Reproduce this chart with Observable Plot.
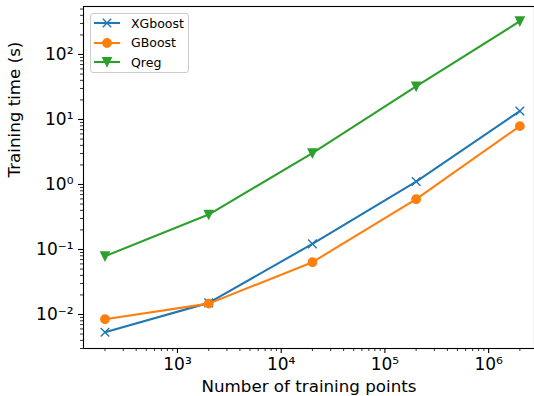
<!DOCTYPE html>
<html>
<head>
<meta charset="utf-8">
<script src="https://cdn.jsdelivr.net/npm/d3@7"></script>
<script src="https://cdn.jsdelivr.net/npm/@observablehq/plot@0.6"></script>
<style>
  body { margin: 0; background: white; }
  #wrap { position: relative; width: 534px; height: 396px; overflow: hidden; font-family: "DejaVu Sans", sans-serif; }
  #legend { position: absolute; left: 90px; top: 13px; width: 99px; height: 60px;
    background: rgba(255,255,255,0.8); border: 1px solid #cccccc; border-radius: 3px; box-sizing: border-box; }
  .row { position: absolute; left: 0; height: 20px; display: flex; align-items: center; }
  .row span { font-size: 12.5px; color: black; margin-left: 10px; }
</style>
</head>
<body>
<div id="wrap"><div id="chart"></div><div id="legend"></div></div>
<script>
// Data
const sizes = [200, 2000, 20000, 200000, 2000000];
const xgboost = [0.00534, 0.0151, 0.122, 1.11, 13.5];
const gboost = [0.00847, 0.0147, 0.0638, 0.594, 7.9];
const qreg = [0.0789, 0.345, 3.03, 32.2, 325];
const seriesNames = ["XGboost", "GBoost", "Qreg"];
const seriesColors = ["#1f77b4", "#ff7f0e", "#2ca02c"];

const xMajorTicks = [1e3, 1e4, 1e5, 1e6];
const yMajorTicks = [1e-2, 1e-1, 1e0, 1e1, 1e2];
const xLabel = "Number of training points";
const yLabel = "Training time (s)";

const xDomain = [Math.pow(10, 2.094), Math.pow(10, 6.5)];
const yDomain = [Math.pow(10, -2.523), Math.pow(10, 2.738)];

function minorTicks(domain) {
  const out = [];
  for (let e = -4; e <= 7; e++) for (let m = 2; m <= 9; m++) {
    const v = m * Math.pow(10, e);
    if (v >= domain[0] && v <= domain[1]) out.push(v);
  }
  return out;
}
const supMap = {"-": "\u207B", "0": "\u2070", "1": "\u00B9", "2": "\u00B2", "3": "\u00B3", "4": "\u2074",
  "5": "\u2075", "6": "\u2076", "7": "\u2077", "8": "\u2078", "9": "\u2079"};
const fmt = v => "10" + String(Math.round(Math.log10(v))).split("").map(c => supMap[c]).join("");

const table = [];
[xgboost, gboost, qreg].forEach((vals, i) => {
  sizes.forEach((s, j) => table.push({series: seriesNames[i], n: s, t: vals[j]}));
});
const bySeries = name => table.filter(d => d.series === name);

const triDown = {
  draw(context, size) {
    const r = Math.sqrt(size / Math.PI);
    context.moveTo(-r, -r);
    context.lineTo(r, -r);
    context.lineTo(0, r);
    context.closePath();
  }
};

const chart = Plot.plot({
  width: 534,
  height: 396,
  marginLeft: 83,
  marginTop: 6,
  marginBottom: 48,
  marginRight: 0,
  style: {fontFamily: "DejaVu Sans", fontSize: "17px", color: "black", background: "white", overflow: "visible"},
  x: {type: "log", domain: xDomain, range: [83, 540]},
  y: {type: "log", domain: yDomain, range: [348, 6]},
  color: {domain: seriesNames, range: seriesColors},
  marks: [
    Plot.axisX({ticks: minorTicks(xDomain), tickSize: 3, strokeWidth: 0.8, tickFormat: () => "", label: null}),
    Plot.axisY({ticks: minorTicks(yDomain), tickSize: 3, strokeWidth: 0.8, tickFormat: () => "", label: null}),
    Plot.axisX({ticks: xMajorTicks, tickSize: 5, tickPadding: 4, strokeWidth: 1.1, tickFormat: fmt, label: null, fontSize: 17}),
    Plot.axisY({ticks: yMajorTicks, tickSize: 5, tickPadding: 5, strokeWidth: 1.1, tickFormat: fmt, label: null, fontSize: 17}),
    Plot.frame({stroke: "black", strokeWidth: 1.1}),
    Plot.line(table, {x: "n", y: "t", z: "series", stroke: "series", strokeWidth: 2.1}),
    Plot.dot(bySeries("XGboost"), {x: "n", y: "t", symbol: "times", r: 4, stroke: seriesColors[0], strokeWidth: 1.4}),
    Plot.dot(bySeries("GBoost"), {x: "n", y: "t", symbol: "circle", r: 4.2, fill: seriesColors[1], stroke: seriesColors[1], strokeWidth: 1.4}),
    Plot.dot(bySeries("Qreg"), {x: "n", y: "t", symbol: triDown, r: 4.2, fill: seriesColors[2], stroke: seriesColors[2], strokeWidth: 1.4}),
    Plot.text([xLabel], {frameAnchor: "bottom", text: d => d, lineAnchor: "bottom", dy: 43.5, fontSize: 16.7, fill: "black"}),
    Plot.text([yLabel], {frameAnchor: "left", text: d => d, rotate: -90, lineAnchor: "top", dx: -75, fontSize: 16.7, fill: "black"})
  ]
});
document.getElementById("chart").appendChild(chart);

// Legend
const legend = document.getElementById("legend");
const markerSvg = [
  c => `<path d="M8.8,5.8 L17.2,14.2 M8.8,14.2 L17.2,5.8" stroke="${c}" stroke-width="1.4"/>`,
  c => `<circle cx="13" cy="10" r="4.2" fill="${c}" stroke="${c}" stroke-width="1.4"/>`,
  c => `<path d="M8.8,5.8 L17.2,5.8 L13,14.2 Z" fill="${c}" stroke="${c}" stroke-width="1.4"/>`
];
seriesNames.forEach((name, i) => {
  const row = document.createElement("div");
  row.className = "row";
  row.style.top = (-1 + i * 19.5) + "px";
  row.style.left = "3px";
  const c = seriesColors[i];
  row.innerHTML = `<svg width="27" height="20"><line x1="0" y1="10" x2="26" y2="10" stroke="${c}" stroke-width="2.1"/>${markerSvg[i](c)}</svg><span>${name}</span>`;
  legend.appendChild(row);
});
</script>
</body>
</html>
